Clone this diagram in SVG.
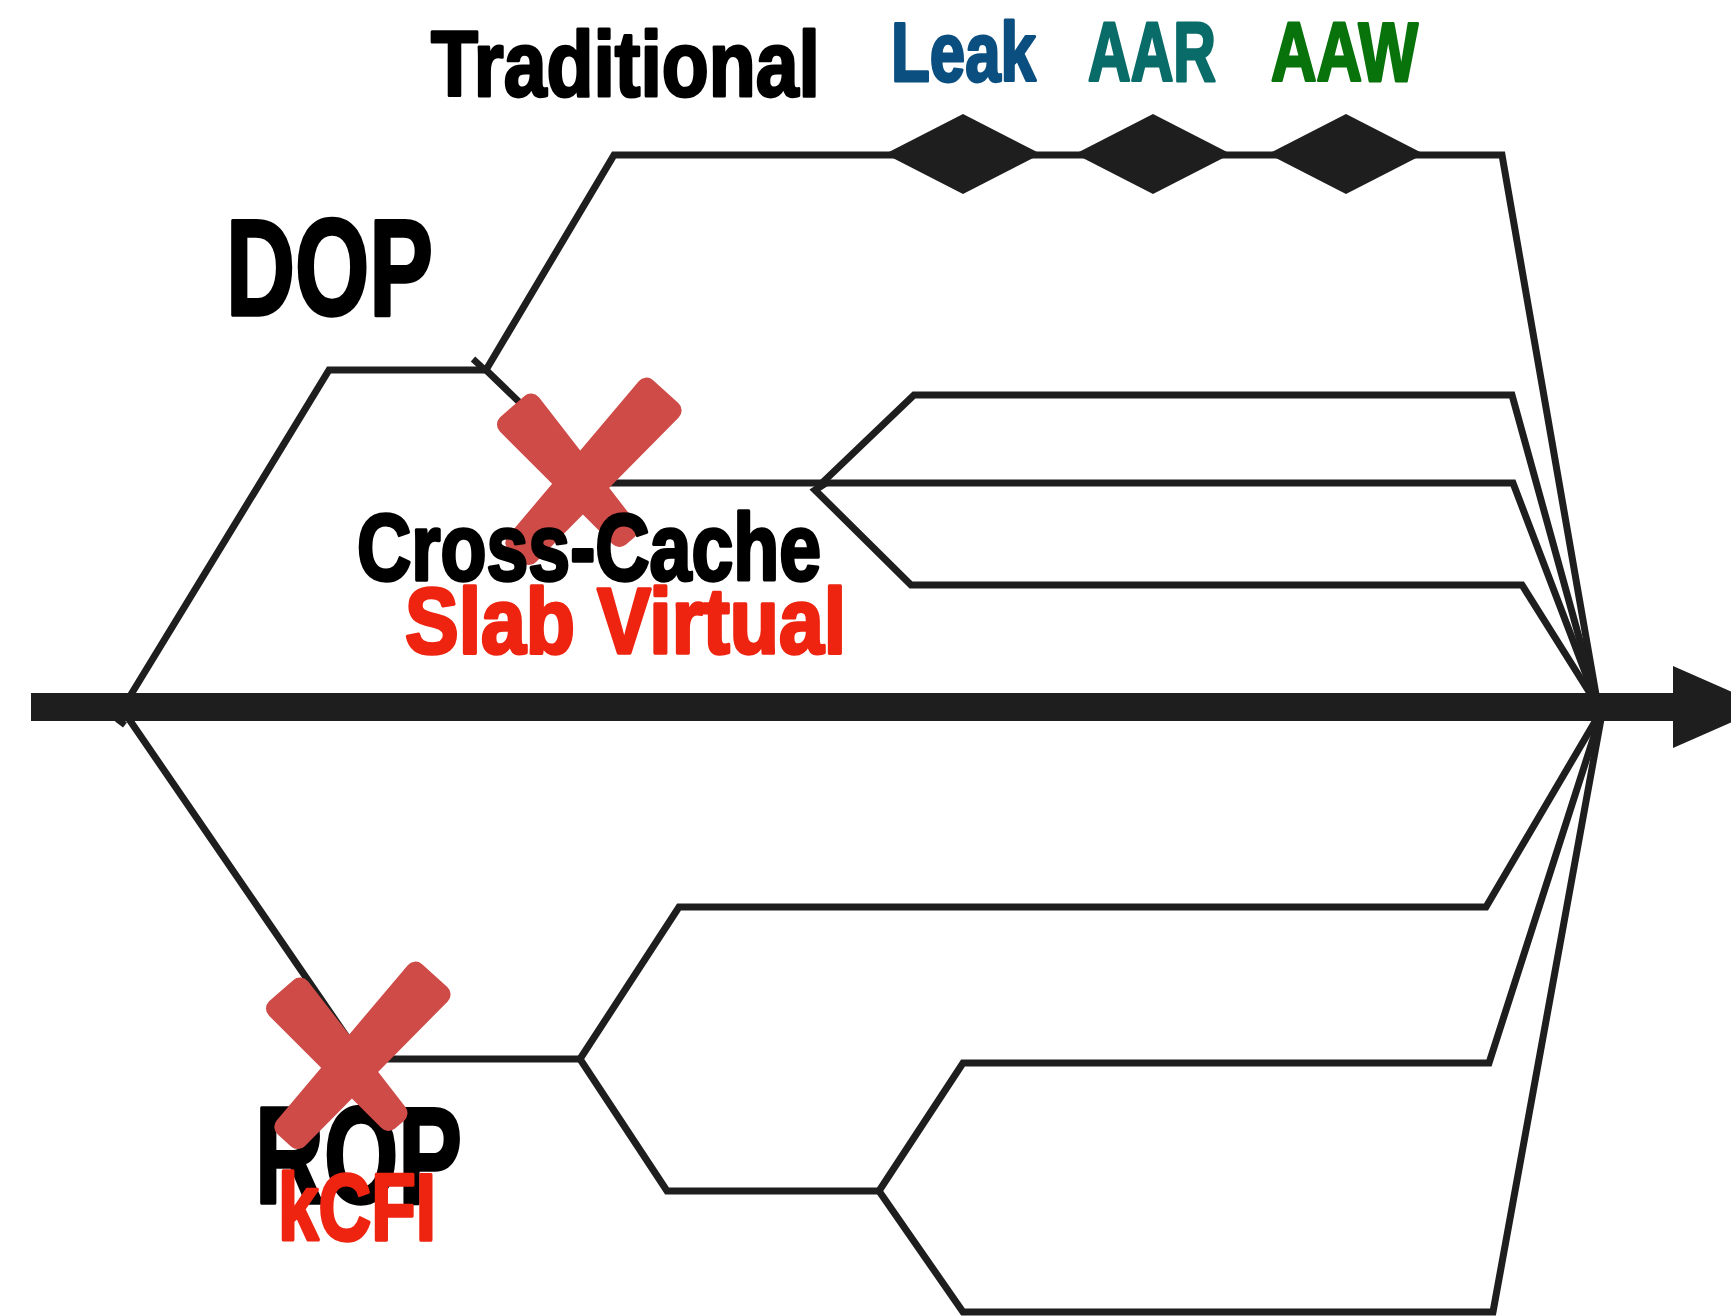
<svg xmlns="http://www.w3.org/2000/svg" xmlns:xlink="http://www.w3.org/1999/xlink" width="1731" height="1316" viewBox="0 0 1731 1316">
  <style>
    .ln { fill: none; stroke: #1e1e1e; stroke-width: 7; stroke-linejoin: miter; stroke-miterlimit: 10; }
    .tk { fill: none; stroke: #1e1e1e; stroke-width: 6.5; stroke-linecap: butt; }
    .lbl { font-family: "Liberation Sans Narrow", "Liberation Sans", Arial, sans-serif; font-weight: bold; stroke-linejoin: round; }
    .blk { fill: #000000; stroke: #000000; stroke-width: 3.5; }
    .red { fill: #ee2411; stroke: #ee2411; stroke-width: 3.5; }
    .hdr { stroke-width: 3; }
    .xm { fill: #cf4b47; stroke: #cf4b47; stroke-width: 20; stroke-linejoin: round; }
    .dia { fill: #1e1e1e; }
  </style>
  <defs>
    <!-- brush-stroke cross, centred on 0,0 -->
    <g id="xmark">
      <path class="xm" d="M -45.95 -67.5 L 51.5 58.1 L 42.5 65.9 L -70.05 -46.5 Z"/>
      <path class="xm" d="M 94.6 -60.6 L -48.3 84.1 L -61.7 71.9 L 69.4 -83.4 Z"/>
    </g>
  </defs>

  <rect width="1731" height="1316" fill="#ffffff"/>

  <!-- branching paths -->
  <g id="connectors">
    <!-- upper (DOP) side -->
    <path class="ln" d="M 124 706 L 329 370 L 486 370"/>
    <path class="ln" d="M 486 370 L 614 155 L 1502 155 L 1598 706"/>
    <path class="ln" d="M 486 370 L 603 483 L 1513 483 L 1598 706"/>
    <path class="ln" d="M 822 483 L 914 395 L 1512 395 L 1598 706"/>
    <path class="ln" d="M 826 483 L 815 490 L 911 585 L 1522 585 L 1598 706"/>
    <path class="tk" d="M 473 359 L 486 371"/>
    <!-- lower (ROP) side -->
    <path class="ln" d="M 120 706 L 362 1059 L 580 1059"/>
    <path class="ln" d="M 580 1059 L 679 907 L 1486 907 L 1603 708"/>
    <path class="ln" d="M 580 1059 L 667 1191 L 879 1191"/>
    <path class="ln" d="M 879 1191 L 963 1063 L 1489 1063 L 1603 708"/>
    <path class="ln" d="M 879 1191 L 963 1312 L 1493 1312 L 1603 708"/>
    <path class="tk" d="M 117 719 L 125 725"/>
  </g>

  <!-- time axis -->
  <g id="axis">
    <rect x="31" y="693" width="1645" height="28" fill="#1e1e1e"/>
    <polygon points="1673,666 1766,707 1673,748" fill="#1e1e1e"/>
  </g>

  <!-- stage markers on the top path -->
  <g id="stages">
    <polygon class="dia" points="885,154 963,114 1041,154 963,194"/>
    <polygon class="dia" points="1075,154 1153,114 1231,154 1153,194"/>
    <polygon class="dia" points="1268,154 1346,114 1424,154 1346,194"/>
  </g>

  <!-- header labels -->
  <g id="label-traditional">
    <text class="lbl blk hdr" x="431" y="96" font-size="93" textLength="389" lengthAdjust="spacingAndGlyphs">Traditional</text>
  </g>
  <g id="label-leak">
    <text class="lbl hdr" x="891" y="81" font-size="84" fill="#0b4f80" stroke="#0b4f80" textLength="145" lengthAdjust="spacingAndGlyphs">Leak</text>
  </g>
  <g id="label-aar">
    <text class="lbl hdr" x="1088" y="81" font-size="84" fill="#0a6c68" stroke="#0a6c68" textLength="128" lengthAdjust="spacingAndGlyphs">AAR</text>
  </g>
  <g id="label-aaw">
    <text class="lbl hdr" x="1271" y="81" font-size="84" fill="#08730b" stroke="#08730b" textLength="147" lengthAdjust="spacingAndGlyphs">AAW</text>
  </g>

  <!-- DOP branch -->
  <g id="node-dop">
    <text class="lbl blk" x="226" y="315" font-size="138" textLength="207" lengthAdjust="spacingAndGlyphs">DOP</text>
  </g>
  <g id="node-cross-cache">
    <use xlink:href="#xmark" href="#xmark" x="577" y="471"/>
    <text class="lbl blk" x="357" y="580" font-size="95" textLength="464" lengthAdjust="spacingAndGlyphs">Cross-Cache</text>
    <text class="lbl red" x="405" y="653" font-size="93" textLength="441" lengthAdjust="spacingAndGlyphs">Slab Virtual</text>
  </g>

  <!-- ROP branch -->
  <g id="node-rop">
    <text class="lbl blk" x="255" y="1203" font-size="137" textLength="207" lengthAdjust="spacingAndGlyphs">ROP</text>
    <use xlink:href="#xmark" href="#xmark" x="346" y="1055"/>
    <text class="lbl red" x="278" y="1240" font-size="95" textLength="158" lengthAdjust="spacingAndGlyphs">kCFI</text>
  </g>
</svg>
